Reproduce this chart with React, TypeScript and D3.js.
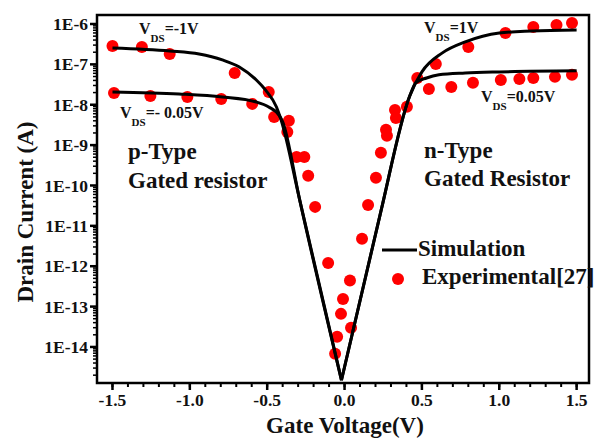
import React from "react";
import * as d3 from "d3";

// ---------- data (Gate voltage V, drain current A) ----------
const simNeg1: [number, number][] = [
  [-1.5, 2.55e-7], [-1.13, 2.15e-7], [-0.94, 1.81e-7], [-0.79, 1.29e-7], [-0.68, 8.6e-8],
  [-0.57, 4.1e-8], [-0.51, 2.3e-8], [-0.44, 8.8e-9], [-0.41, 4.2e-9], [-0.29, 4.4e-11], [-0.02, 1.5e-15],
];
const simNeg005: [number, number][] = [
  [-1.5, 2.07e-8], [-1.07, 1.85e-8], [-0.79, 1.56e-8], [-0.57, 1.17e-8], [-0.49, 8.8e-9],
  [-0.42, 5.3e-9], [-0.40, 3.75e-9], [-0.29, 4.4e-11], [-0.02, 1.5e-15],
];
const simPos1: [number, number][] = [
  [-0.02, 1.5e-15], [0.23, 1.9e-11], [0.42, 1.6e-8], [0.50, 6.5e-8], [0.63, 1.9e-7],
  [0.78, 3.6e-7], [1.0, 6.0e-7], [1.21, 6.7e-7], [1.5, 7.1e-7],
];
const simPos005: [number, number][] = [
  [-0.02, 1.5e-15], [0.23, 1.9e-11], [0.42, 1.6e-8], [0.46, 3.5e-8], [0.53, 4.6e-8],
  [0.61, 5.5e-8], [0.78, 6.1e-8], [1.0, 6.5e-8], [1.5, 6.9e-8],
];

const expNeg1: [number, number][] = [
  [-1.5, 2.85e-7], [-1.31, 2.7e-7], [-1.13, 1.8e-7], [-0.71, 6.1e-8], [-0.49, 2.07e-8],
  [-0.36, 4.0e-9], [-0.37, 2.1e-9], [-0.31, 5.1e-10], [-0.26, 5.1e-10], [-0.235, 1.73e-10],
  [-0.19, 2.95e-11], [-0.106, 1.2e-12], [-0.061, 6.8e-15], [-0.048, 1.78e-14], [-0.023, 6.6e-14],
  [-0.01, 1.55e-13],
];
const expNeg005: [number, number][] = [
  [-1.49, 1.96e-8], [-1.255, 1.65e-8], [-1.016, 1.56e-8], [-0.797, 1.39e-8], [-0.597, 1.05e-8],
  [-0.455, 5.0e-9],
];
const expPos1: [number, number][] = [
  [0.035, 4.4e-13], [0.042, 3.0e-14], [0.113, 4.8e-12], [0.152, 3.3e-11], [0.203, 1.55e-10],
  [0.235, 6.5e-10], [0.268, 2.4e-9], [0.274, 1.7e-9], [0.326, 7.4e-9], [0.332, 4.7e-9],
  [0.403, 8.9e-9], [0.47, 4.6e-8], [0.59, 1.02e-7], [0.80, 2.7e-7], [1.04, 6.0e-7],
  [1.22, 8.4e-7], [1.37, 9.4e-7], [1.47, 1.06e-6],
];
const expPos005: [number, number][] = [
  [0.545, 2.46e-8], [0.69, 2.76e-8], [0.83, 3.5e-8], [1.01, 4.1e-8], [1.13, 4.35e-8],
  [1.22, 4.6e-8], [1.36, 4.9e-8], [1.47, 5.5e-8],
];

const xTicks = [-1.5, -1.0, -0.5, 0.0, 0.5, 1.0, 1.5];
const xTickLabels = ["-1.5", "-1.0", "-0.5", "0.0", "0.5", "1.0", "1.5"];
const yTickExps = [-6, -7, -8, -9, -10, -11, -12, -13, -14];
const yTickLabels = ["1E-6", "1E-7", "1E-8", "1E-9", "1E-10", "1E-11", "1E-12", "1E-13", "1E-14"];

const FONT = "'Liberation Serif', 'Times New Roman', serif";

export default function App() {
  const L = 97, R = 589, T = 15, B = 383;
  const x = d3.scaleLinear().domain([-1.6, 1.58]).range([L, R]);
  const y = d3.scaleLog().domain([1.28e-15, 1.67e-6]).range([B, T]);

  const line = d3
    .line<[number, number]>()
    .x((d) => x(d[0]))
    .y((d) => y(d[1]))
    .curve(d3.curveMonotoneX);

  const minorX = d3.range(-16, 16).map((i) => i / 10).filter((v) => x(v) > L + 1 && x(v) < R - 1);
  const minorY: number[] = [];
  for (let e = -16; e <= -5; e++) {
    for (let k = 2; k <= 9; k++) {
      const v = k * Math.pow(10, e);
      if (y(v) > T + 1 && y(v) < B - 1) minorY.push(v);
    }
  }

  const allExp = [...expNeg1, ...expNeg005, ...expPos1, ...expPos005];
  const sims = [simNeg1, simNeg005, simPos1, simPos005];

  const vds = (xx: number, yy: number, rest: string) => (
    <text x={xx} y={yy} fontFamily={FONT} fontWeight="bold" fontSize={16} fill="#111">
      V<tspan fontSize={11} dy={8}>DS</tspan>
      <tspan dy={-8}>{rest}</tspan>
    </text>
  );

  const big = { fontFamily: FONT, fontWeight: "bold" as const, fontSize: 23, fill: "#111" };

  return (
    <svg
      width={595}
      height={438}
      style={{ position: "absolute", left: 0, top: 0, background: "#fff" }}
    >
      <defs>
        <clipPath id="plotclip">
          <rect x={L} y={T} width={R - L} height={B - T} />
        </clipPath>
      </defs>
      <rect x={0} y={0} width={595} height={438} fill="#fff" />

      <g clipPath="url(#plotclip)">
        {allExp.map((d, i) => (
          <circle key={i} cx={x(d[0])} cy={y(d[1])} r={6} fill="#ff0000" />
        ))}
        {sims.map((s, i) => (
          <path key={i} d={line(s) || ""} fill="none" stroke="#000" strokeWidth={3} strokeLinejoin="round" />
        ))}
      </g>

      <rect x={L} y={T} width={R - L} height={B - T} fill="none" stroke="#000" strokeWidth={2.5} />

      {minorX.map((v, i) => (
        <line key={"mx" + i} x1={x(v)} x2={x(v)} y1={B} y2={B + 4} stroke="#000" strokeWidth={2} />
      ))}
      {xTicks.map((v, i) => (
        <g key={"x" + i}>
          <line x1={x(v)} x2={x(v)} y1={B} y2={B + 7} stroke="#000" strokeWidth={2.5} />
          <text x={x(v)} y={406} textAnchor="middle" fontFamily={FONT} fontWeight="bold" fontSize={17.5} fill="#111">
            {xTickLabels[i]}
          </text>
        </g>
      ))}

      {minorY.map((v, i) => (
        <line key={"my" + i} x1={L - 4} x2={L} y1={y(v)} y2={y(v)} stroke="#000" strokeWidth={1.5} />
      ))}
      {yTickExps.map((e, i) => (
        <g key={"y" + i}>
          <line x1={L - 7} x2={L} y1={y(Math.pow(10, e))} y2={y(Math.pow(10, e))} stroke="#000" strokeWidth={2.5} />
          <text
            x={L - 9}
            y={y(Math.pow(10, e))}
            dy="0.35em"
            textAnchor="end"
            fontFamily={FONT}
            fontWeight="bold"
            fontSize={17.5}
            fill="#111"
          >
            {yTickLabels[i]}
          </text>
        </g>
      ))}

      <text x={345} y={433} textAnchor="middle" {...big}>
        Gate Voltage(V)
      </text>
      <text transform="translate(33,212) rotate(-90)" textAnchor="middle" {...big}>
        Drain Current (A)
      </text>

      {vds(139, 34, "=-1V")}
      {vds(120, 118, "=- 0.05V")}
      {vds(424, 33, "=1V")}
      {vds(481, 102, "=0.05V")}
      <text x={128} y={159} {...big}>p-Type</text>
      <text x={128} y={188} {...big}>Gated resistor</text>
      <text x={424} y={158} {...big}>n-Type</text>
      <text x={424} y={186} {...big}>Gated Resistor</text>

      <line x1={382} x2={417} y1={250} y2={250} stroke="#000" strokeWidth={3} />
      <text x={418} y={256} {...big}>Simulation</text>
      <circle cx={398} cy={279} r={6} fill="#ff0000" />
      <text x={422} y={284} {...big}>Experimental[27]</text>
    </svg>
  );
}
